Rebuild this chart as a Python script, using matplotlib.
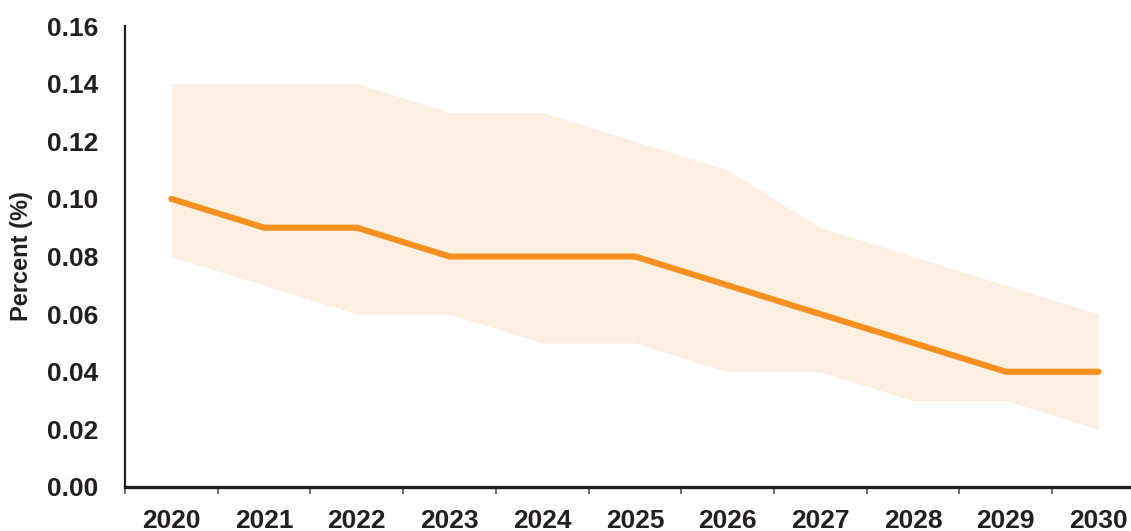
import matplotlib
matplotlib.use("Agg")
import matplotlib.pyplot as plt
import numpy as np

years = ["2020", "2021", "2022", "2023", "2024", "2025", "2026", "2027", "2028", "2029", "2030"]
central = [0.10, 0.09, 0.09, 0.08, 0.08, 0.08, 0.07, 0.06, 0.05, 0.04, 0.04]
upper = [0.14, 0.14, 0.14, 0.13, 0.13, 0.12, 0.11, 0.09, 0.08, 0.07, 0.06]
lower = [0.08, 0.07, 0.06, 0.06, 0.05, 0.05, 0.04, 0.04, 0.03, 0.03, 0.02]
yticks = [0.00, 0.02, 0.04, 0.06, 0.08, 0.10, 0.12, 0.14, 0.16]

plt.rcParams['font.family'] = ['Liberation Sans', 'DejaVu Sans']
W, H = 1131, 531
fig = plt.figure(figsize=(W / 100, H / 100), dpi=100)
left, right, top, bottom = 125, 1131, 26, 487
ax = fig.add_axes([left / W, 1 - bottom / H, (right - left) / W, (bottom - top) / H])

x = np.arange(len(years))
ax.fill_between(x, lower, upper, color="#FDEFE1", linewidth=0)
ax.plot(x, central, color="#F7901E", linewidth=4.4, solid_capstyle="round", solid_joinstyle="miter")

ax.set_xlim(-0.5, 10.35)
ax.set_ylim(0, 0.16)
ax.set_yticks(yticks)
ax.set_yticklabels([f"{v:.2f}" for v in yticks])
ax.set_xticks(x)
ax.set_xticklabels(years)
ax.set_xticks(np.arange(-0.5, 10.5, 1.0), minor=True)

for s in ["top", "right"]:
    ax.spines[s].set_visible(False)
ax.spines["left"].set_color("#231F20")
ax.spines["left"].set_linewidth(1.6)
ax.spines["bottom"].set_color("#231F20")
ax.spines["bottom"].set_linewidth(2.4)

ax.tick_params(axis="y", length=0, pad=19, labelsize=19, labelcolor="#231F20")
ax.tick_params(axis="x", which="major", length=0, pad=16, labelsize=19, labelcolor="#231F20")
ax.tick_params(axis="x", which="minor", length=5, width=1.2, color="#555555", direction="out")
for lab in ax.get_xticklabels() + ax.get_yticklabels():
    lab.set_fontweight("bold")

ax.set_ylabel("Percent (%)", fontsize=17, fontweight="bold", color="#231F20")
ax.yaxis.set_label_coords(-92 / (right - left), 0.5)

fig.savefig("out.png", dpi=100)
